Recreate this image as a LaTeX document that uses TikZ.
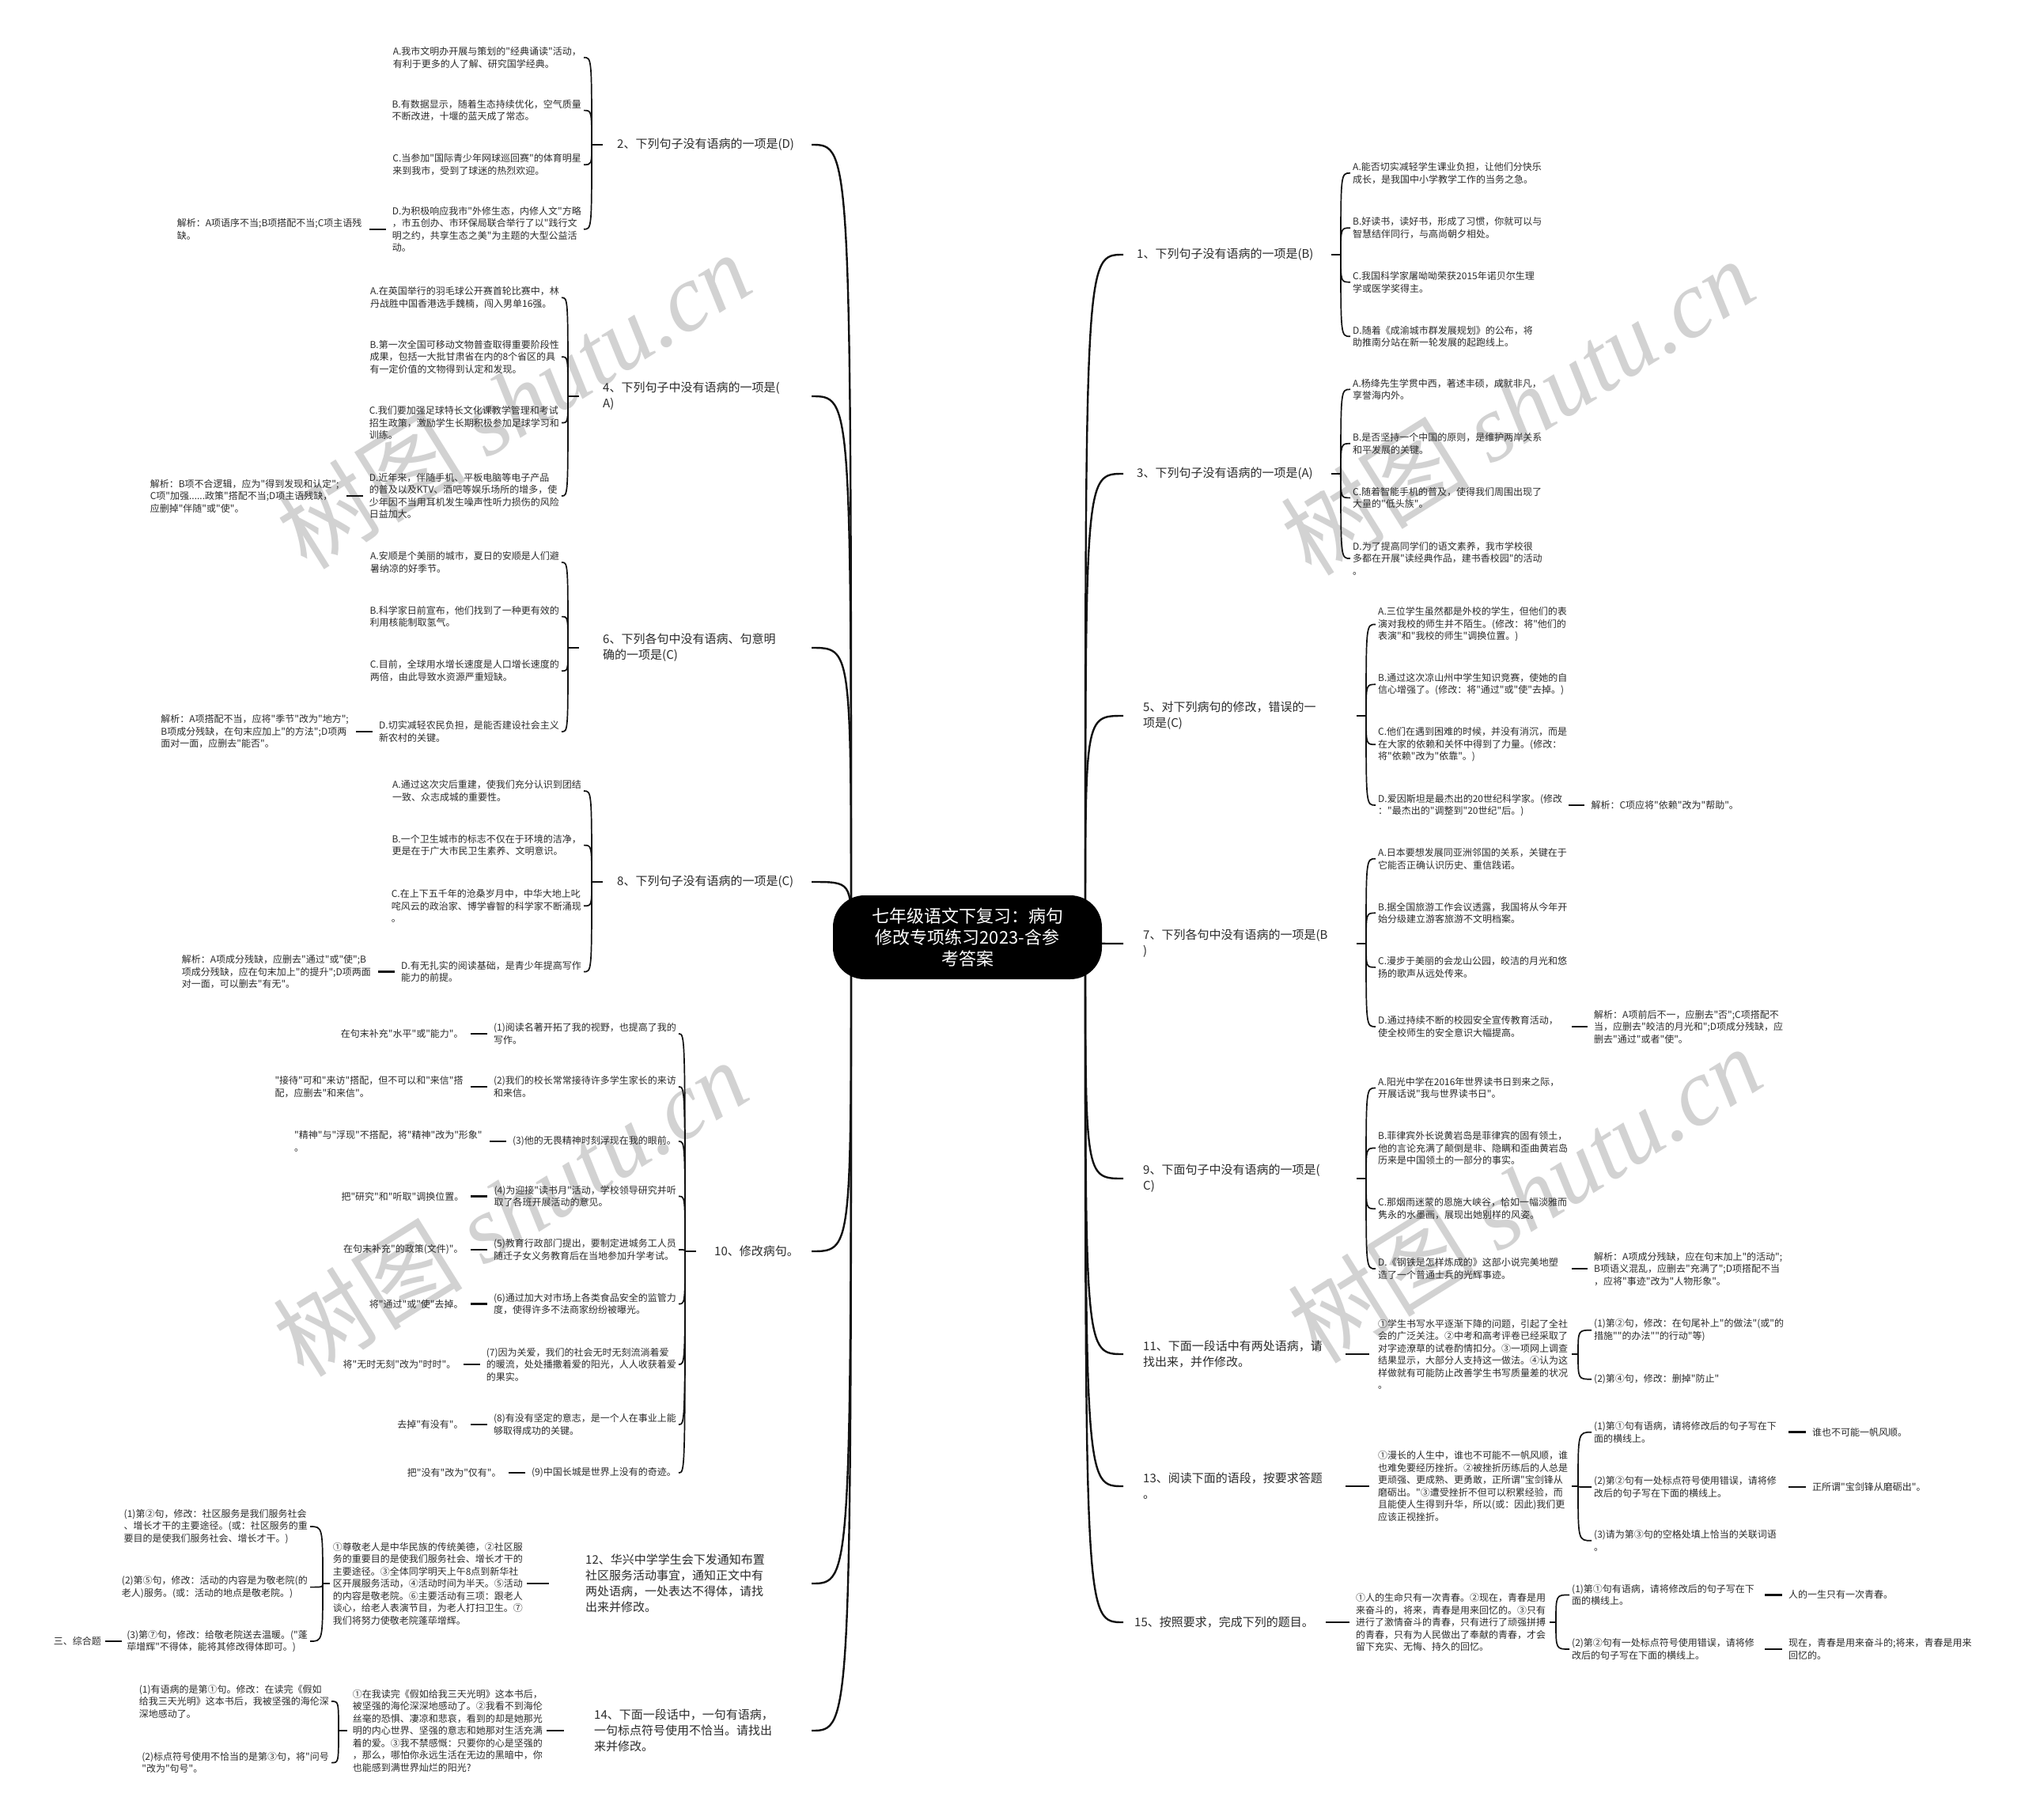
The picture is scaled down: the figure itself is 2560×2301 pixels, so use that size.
\documentclass[tikz,border=0pt]{standalone}
\usepackage{fontspec}
\setmainfont{Noto Sans CJK SC}[Ligatures=TeXOff]
\newfontfamily\wmserif{Liberation Serif}
\usetikzlibrary{positioning}
\definecolor{txt}{HTML}{2B2B2B}
\definecolor{lc}{HTML}{111111}
\definecolor{wmc}{HTML}{D2D2D2}
\tikzset{
 leaf/.style={font=\fontsize{12}{15.5}\selectfont, text=txt, align=left, inner sep=0pt},
 blabel/.style={font=\fontsize{15}{20}\selectfont, text=txt, align=left, inner sep=0pt},
 mainline/.style={line width=2.4pt, draw=lc},
 brc/.style={line width=1.7pt, draw=lc},
 tick/.style={line width=2.6pt, draw=lc},
 wm/.style={font=\fontsize{120}{120}\selectfont, text=wmc, rotate=32, inner sep=0pt},
}
\begin{document}
\begin{tikzpicture}[x=1pt,y=-1pt]
\fill[white] (0,0) rectangle (2560,2301);
\useasboundingbox (0,0) rectangle (2560,2301);
% watermarks
\node[wm] (w1) at (649,506) {树图 {\wmserif\itshape shutu.cn}};
\node[wm] (w2) at (1918,514) {树图 {\wmserif\itshape shutu.cn}};
\node[wm] (w3) at (645,1527) {树图 {\wmserif\itshape shutu.cn}};
\node[wm] (w4) at (1927,1510) {树图 {\wmserif\itshape shutu.cn}};

\coordinate (CL) at (1076,1185);
\coordinate (CR) at (1372,1185);
\coordinate (EL) at (1026,0);
\coordinate (ER) at (1420,0);

% branch labels
\node[blabel, anchor=west] (b1) at (1437,322) {1、下列句子没有语病的一项是(B)};
\node[blabel, anchor=west] (b3) at (1437,599) {3、下列句子没有语病的一项是(A)};
\node[blabel, anchor=west] (b5) at (1445,905) {5、对下列病句的修改，错误的一\\项是(C)};
\node[blabel, anchor=west] (b7) at (1445,1193) {7、下列各句中没有语病的一项是(B\\)};
\node[blabel, anchor=west] (b9) at (1445,1490) {9、下面句子中没有语病的一项是(\\C)};
\node[blabel, anchor=west] (b11) at (1445,1712) {11、下面一段话中有两处语病，请\\找出来，并作修改。};
\node[blabel, anchor=west] (b13) at (1445,1879) {13、阅读下面的语段，按要求答题\\。};
\node[blabel, anchor=west] (b15) at (1434,2051) {15、按照要求，完成下列的题目。};
\node[blabel, anchor=west] (b2) at (780,183) {2、下列句子没有语病的一项是(D)};
\node[blabel, anchor=west] (b4) at (762,501) {4、下列句子中没有语病的一项是(\\A)};
\node[blabel, anchor=west] (b6) at (762,819) {6、下列各句中没有语病、句意明\\确的一项是(C)};
\node[blabel, anchor=west] (b8) at (780,1115) {8、下列句子没有语病的一项是(C)};
\node[blabel, anchor=west] (b10) at (903,1582) {10、修改病句。};
\node[blabel, anchor=west] (b12) at (740,2002) {12、华兴中学学生会下发通知布置\\社区服务活动事宜，通知正文中有\\两处语病，一处表达不得体，请找\\出来并修改。};
\node[blabel, anchor=west] (b14) at (751,2188) {14、下面一段话中，一句有语病，\\一句标点符号使用不恰当。请找出\\来并修改。};

% main curves
\foreach \b in {b2,b4,b6,b8,b10,b12,b14}{
 \draw[mainline] (CL) .. controls (CL |- \b.east) .. (\b.east -| EL);
}
\foreach \b in {b1,b3,b5,b7,b9,b11,b13,b15}{
 \draw[mainline] (CR) .. controls (CR |- \b.west) .. (\b.west -| ER);
}

% center
\node[fill=black, rounded corners=40pt, minimum width=340pt, minimum height=106pt, text=white, align=center, font=\fontsize{22}{27}\selectfont] (c) at (1223,1185) {七年级语文下复习：病句\\修改专项练习2023-含参\\考答案};

% ===== Right side =====
% B1
\coordinate (P1) at (1695,322);
\node[leaf, anchor=west] (l1a) at (1710,218.8) {A.能否切实减轻学生课业负担，让他们分快乐\\成长，是我国中小学教学工作的当务之急。};
\node[leaf, anchor=west] (l1b) at (1710,288.2) {B.好读书，读好书，形成了习惯，你就可以与\\智慧结伴同行，与高尚朝夕相处。};
\node[leaf, anchor=west] (l1c) at (1710,356.7) {C.我国科学家屠呦呦荣获2015年诺贝尔生理\\学或医学奖得主。};
\node[leaf, anchor=west] (l1d) at (1710,425.3) {D.随着《成渝城市群发展规划》的公布，将\\助推南分站在新一轮发展的起跑线上。};
\draw[tick] (P1) -- ++(-12,0);
\foreach \n in {a,b,c,d}{\draw[brc] (P1) .. controls (P1 |- l1\n.west) .. ([xshift=-3pt]l1\n.west);}
% B3
\coordinate (P3) at (1695,599);
\node[leaf, anchor=west] (l3a) at (1710,492.3) {A.杨绛先生学贯中西，著述丰硕，成就非凡，\\享誉海内外。};
\node[leaf, anchor=west] (l3b) at (1710,560.8) {B.是否坚持一个中国的原则，是维护两岸关系\\和平发展的关键。};
\node[leaf, anchor=west] (l3c) at (1710,629.4) {C.随着智能手机的普及，使得我们周围出现了\\大量的"低头族"。};
\node[leaf, anchor=west] (l3d) at (1710,706.1) {D.为了提高同学们的语文素养，我市学校很\\多都在开展"读经典作品，建书香校园"的活动\\。};
\draw[tick] (P3) -- ++(-12,0);
\foreach \n in {a,b,c,d}{\draw[brc] (P3) .. controls (P3 |- l3\n.west) .. ([xshift=-3pt]l3\n.west);}
% B5
\coordinate (P5) at (1727,905);
\node[leaf, anchor=west] (l5a) at (1742,789.4) {A.三位学生虽然都是外校的学生，但他们的表\\演对我校的师生并不陌生。(修改：将"他们的\\表演"和"我校的师生"调换位置。)};
\node[leaf, anchor=west] (l5b) at (1742,865.3) {B.通过这次凉山州中学生知识竞赛，使她的自\\信心增强了。(修改：将"通过"或"使"去掉。)};
\node[leaf, anchor=west] (l5c) at (1742,941.3) {C.他们在遇到困难的时候，并没有消沉，而是\\在大家的依赖和关怀中得到了力量。(修改：\\将"依赖"改为"依靠"。)};
\node[leaf, anchor=west] (l5d) at (1742,1018) {D.爱因斯坦是最杰出的20世纪科学家。(修改\\："最杰出的"调整到"20世纪"后。)};
\node[leaf, right=36pt of l5d] (e5) {解析：C项应将"依赖"改为"帮助"。};
\draw[tick] (P5) -- ++(-12,0);
\foreach \n in {a,b,c,d}{\draw[brc] (P5) .. controls (P5 |- l5\n.west) .. ([xshift=-3pt]l5\n.west);}
\draw[tick, shorten <=8pt, shorten >=8pt] (l5d.east) -- (e5.west);
% B7
\coordinate (P7) at (1727,1193);
\node[leaf, anchor=west] (l7a) at (1742,1085.7) {A.日本要想发展同亚洲邻国的关系，关键在于\\它能否正确认识历史、重信践诺。};
\node[leaf, anchor=west] (l7b) at (1742,1154.3) {B.据全国旅游工作会议透露，我国将从今年开\\始分级建立游客旅游不文明档案。};
\node[leaf, anchor=west] (l7c) at (1742,1222.9) {C.漫步于美丽的会龙山公园，皎洁的月光和悠\\扬的歌声从远处传来。};
\node[leaf, anchor=west] (l7d) at (1742,1298) {D.通过持续不断的校园安全宣传教育活动，\\使全校师生的安全意识大幅提高。};
\node[leaf, anchor=west] (e7) at (2015,1298) {解析：A项前后不一，应删去"否";C项搭配不\\当，应删去"皎洁的月光和";D项成分残缺，应\\删去"通过"或者"使"。};
\draw[tick] (P7) -- ++(-12,0);
\foreach \n in {a,b,c,d}{\draw[brc] (P7) .. controls (P7 |- l7\n.west) .. ([xshift=-3pt]l7\n.west);}
\draw[tick, shorten >=8pt] ([xshift=-28pt]e7.west) -- (e7.west);
% B9
\coordinate (P9) at (1727,1490);
\node[leaf, anchor=west] (l9a) at (1742,1375.5) {A.阳光中学在2016年世界读书日到来之际，\\开展话说"我与世界读书日"。};
\node[leaf, anchor=west] (l9b) at (1742,1451.5) {B.菲律宾外长说黄岩岛是菲律宾的固有领土，\\他的言论充满了颠倒是非、隐瞒和歪曲黄岩岛\\历来是中国领土的一部分的事实。};
\node[leaf, anchor=west] (l9c) at (1742,1528.2) {C.那烟雨迷蒙的恩施大峡谷，恰如一幅淡雅而\\隽永的水墨画，展现出她别样的风姿。};
\node[leaf, anchor=west] (l9d) at (1742,1604.1) {D.《钢铁是怎样炼成的》这部小说完美地塑\\造了一个普通士兵的光辉事迹。};
\node[leaf, anchor=west] (e9) at (2015,1604.1) {解析：A项成分残缺，应在句末加上"的活动";\\B项语义混乱，应删去"充满了";D项搭配不当\\，应将"事迹"改为"人物形象"。};
\draw[tick] (P9) -- ++(-12,0);
\foreach \n in {a,b,c,d}{\draw[brc] (P9) .. controls (P9 |- l9\n.west) .. ([xshift=-3pt]l9\n.west);}
\draw[tick, shorten >=8pt] ([xshift=-28pt]e9.west) -- (e9.west);
% B11
\node[leaf, anchor=west] (m11) at (1742,1712) {①学生书写水平逐渐下降的问题，引起了全社\\会的广泛关注。②中考和高考评卷已经采取了\\对字迹潦草的试卷酌情扣分。③一项网上调查\\结果显示，大部分人支持这一做法。④认为这\\样做就有可能防止改善学生书写质量差的状况\\。};
\coordinate (P11) at (1995,1712);
\node[leaf, anchor=west] (l11a) at (2015,1681.7) {(1)第②句，修改：在句尾补上"的做法"(或"的\\措施""的办法""的行动"等)};
\node[leaf, anchor=west] (l11b) at (2015,1743.7) {(2)第④句，修改：删掉"防止"};
\draw[tick] ([xshift=-11pt]m11.west) -- ++(-30,0);
\draw[tick] (P11) -- ++(-8,0);
\foreach \n in {a,b}{\draw[brc] (P11) .. controls (P11 |- l11\n.west) .. ([xshift=-3pt]l11\n.west);}
% B13
\node[leaf, anchor=west] (m13) at (1742,1879) {①漫长的人生中，谁也不可能不一帆风顺，谁\\也难免要经历挫折。②被挫折历练后的人总是\\更顽强、更成熟、更勇敢，正所谓"宝剑锋从\\磨砺出。"③遭受挫折不但可以积累经验，而\\且能使人生得到升华，所以(或：因此)我们更\\应该正视挫折。};
\coordinate (P13) at (1995,1879);
\node[leaf, anchor=west] (l13a) at (2015,1810.7) {(1)第①句有语病，请将修改后的句子写在下\\面的横线上。};
\node[leaf, anchor=west] (l13b) at (2015,1880) {(2)第②句有一处标点符号使用错误，请将修\\改后的句子写在下面的横线上。};
\node[leaf, anchor=west] (l13c) at (2015,1947.8) {(3)请为第③句的空格处填上恰当的关联词语\\。};
\node[leaf, anchor=west] (a13a) at (2291,1810.7) {谁也不可能一帆风顺。};
\node[leaf, anchor=west] (a13b) at (2291,1880) {正所谓"宝剑锋从磨砺出"。};
\draw[tick] ([xshift=-11pt]m13.west) -- ++(-30,0);
\draw[tick] (P13) -- ++(-8,0);
\foreach \n in {a,b,c}{\draw[brc] (P13) .. controls (P13 |- l13\n.west) .. ([xshift=-3pt]l13\n.west);}
\draw[tick, shorten >=8pt] ([xshift=-30pt]a13a.west) -- (a13a.west);
\draw[tick, shorten >=8pt] ([xshift=-30pt]a13b.west) -- (a13b.west);
% B15
\node[leaf, anchor=west] (m15) at (1714,2051) {①人的生命只有一次青春。②现在，青春是用\\来奋斗的，将来，青春是用来回忆的。③只有\\进行了激情奋斗的青春，只有进行了顽强拼搏\\的青春，只有为人民做出了奉献的青春，才会\\留下充实、无悔、持久的回忆。};
\coordinate (P15) at (1967,2051);
\node[leaf, anchor=west] (l15a) at (1987,2016.4) {(1)第①句有语病，请将修改后的句子写在下\\面的横线上。};
\node[leaf, anchor=west] (l15b) at (1987,2085) {(2)第②句有一处标点符号使用错误，请将修\\改后的句子写在下面的横线上。};
\node[leaf, anchor=west] (a15a) at (2261,2016.4) {人的一生只有一次青春。};
\node[leaf, anchor=west] (a15b) at (2261,2085) {现在，青春是用来奋斗的;将来，青春是用来\\回忆的。};
\draw[tick] ([xshift=-8pt]m15.west) -- ++(-30,0);
\draw[tick] (P15) -- ++(-8,0);
\foreach \n in {a,b}{\draw[brc] (P15) .. controls (P15 |- l15\n.west) .. ([xshift=-3pt]l15\n.west);}
\draw[tick, shorten >=8pt] ([xshift=-30pt]a15a.west) -- (a15a.west);
\draw[tick, shorten >=8pt] ([xshift=-30pt]a15b.west) -- (a15b.west);

% ===== Left side =====
% B2
\coordinate (P2) at (748,183);
\node[leaf, anchor=east] (l2a) at (735,72.7) {A.我市文明办开展与策划的"经典诵读"活动，\\有利于更多的人了解、研究国学经典。};
\node[leaf, anchor=east] (l2b) at (735,139.6) {B.有数据显示，随着生态持续优化，空气质量\\不断改进，十堰的蓝天成了常态。};
\node[leaf, anchor=east] (l2c) at (735,208.2) {C.当参加"国际青少年网球巡回赛"的体育明星\\来到我市，受到了球迷的热烈欢迎。};
\node[leaf, anchor=east] (l2d) at (735,289.8) {D.为积极响应我市"外修生态，内修人文"方略\\，市五创办、市环保局联合举行了以"践行文\\明之约，共享生态之美"为主题的大型公益活\\动。};
\node[leaf, left=38pt of l2d] (e2) {解析：A项语序不当;B项搭配不当;C项主语残\\缺。};
\draw[tick] (P2) -- ++(14,0);
\foreach \n in {a,b,c,d}{\draw[brc] (P2) .. controls (P2 |- l2\n.east) .. ([xshift=3pt]l2\n.east);}
\draw[tick, shorten <=9pt, shorten >=8pt] (e2.east) -- (l2d.west);
% B4
\coordinate (P4) at (718,501);
\node[leaf, anchor=east] (l4a) at (707,376.3) {A.在英国举行的羽毛球公开赛首轮比赛中，林\\丹战胜中国香港选手魏楠，闯入男单16强。};
\node[leaf, anchor=east] (l4b) at (707,451.2) {B.第一次全国可移动文物普查取得重要阶段性\\成果，包括一大批甘肃省在内的8个省区的具\\有一定价值的文物得到认定和发现。};
\node[leaf, anchor=east] (l4c) at (707,534.5) {C.我们要加强足球特长文化课教学管理和考试\\招生政策，激励学生长期积极参加足球学习和\\训练。};
\node[leaf, anchor=east] (l4d) at (707,627) {D.近年来，伴随手机、平板电脑等电子产品\\的普及以及KTV、酒吧等娱乐场所的增多，使\\少年因不当用耳机发生噪声性听力损伤的风险\\日益加大。};
\node[leaf, left=38pt of l4d] (e4) {解析：B项不合逻辑，应为"得到发现和认定";\\C项"加强......政策"搭配不当;D项主语残缺，\\应删掉"伴随"或"使"。};
\draw[tick] (P4) -- ++(14,0);
\foreach \n in {a,b,c,d}{\draw[brc] (P4) .. controls (P4 |- l4\n.east) .. ([xshift=3pt]l4\n.east);}
\draw[tick, shorten <=9pt, shorten >=8pt] (e4.east) -- (l4d.west);
% B6
\coordinate (P6) at (718,819);
\node[leaf, anchor=east] (l6a) at (707,711) {A.安顺是个美丽的城市，夏日的安顺是人们避\\暑纳凉的好季节。};
\node[leaf, anchor=east] (l6b) at (707,779.6) {B.科学家日前宣布，他们找到了一种更有效的\\利用核能制取氢气。};
\node[leaf, anchor=east] (l6c) at (707,848.2) {C.目前，全球用水增长速度是人口增长速度的\\两倍，由此导致水资源严重短缺。};
\node[leaf, anchor=east] (l6d) at (707,925) {D.切实减轻农民负担，是能否建设社会主义\\新农村的关键。};
\node[leaf, left=38pt of l6d] (e6) {解析：A项搭配不当，应将"季节"改为"地方";\\B项成分残缺，在句末应加上"的方法";D项两\\面对一面，应删去"能否"。};
\draw[tick] (P6) -- ++(14,0);
\foreach \n in {a,b,c,d}{\draw[brc] (P6) .. controls (P6 |- l6\n.east) .. ([xshift=3pt]l6\n.east);}
\draw[tick, shorten <=9pt, shorten >=8pt] (e6.east) -- (l6d.west);
% B8
\coordinate (P8) at (748,1115);
\node[leaf, anchor=east] (l8a) at (735,1000) {A.通过这次灾后重建，使我们充分认识到团结\\一致、众志成城的重要性。};
\node[leaf, anchor=east] (l8b) at (735,1068.6) {B.一个卫生城市的标志不仅在于环境的洁净，\\更是在于广大市民卫生素养、文明意识。};
\node[leaf, anchor=east] (l8c) at (735,1145.3) {C.在上下五千年的沧桑岁月中，中华大地上叱\\咤风云的政治家、博学睿智的科学家不断涌现\\。};
\node[leaf, anchor=east] (l8d) at (735,1228.6) {D.有无扎实的阅读基础，是青少年提高写作\\能力的前提。};
\node[leaf, left=38pt of l8d] (e8) {解析：A项成分残缺，应删去"通过"或"使";B\\项成分残缺，应在句末加上"的提升";D项两面\\对一面，可以删去"有无"。};
\draw[tick] (P8) -- ++(14,0);
\foreach \n in {a,b,c,d}{\draw[brc] (P8) .. controls (P8 |- l8\n.east) .. ([xshift=3pt]l8\n.east);}
\draw[tick, shorten <=9pt, shorten >=8pt] (e8.east) -- (l8d.west);
% B10
\coordinate (P10) at (866,1582);
\node[leaf, anchor=east] (l10a) at (855,1307) {(1)阅读名著开拓了我的视野，也提高了我的\\写作。};
\node[leaf, anchor=east] (l10b) at (855,1374) {(2)我们的校长常常接待许多学生家长的来访\\和来信。};
\node[leaf, anchor=east] (l10c) at (855,1443) {(3)他的无畏精神时刻浮现在我的眼前。};
\node[leaf, anchor=east] (l10d) at (855,1512.5) {(4)为迎接"读书月"活动，学校领导研究并听\\取了各班开展活动的意见。};
\node[leaf, anchor=east] (l10e) at (855,1580) {(5)教育行政部门提出，要制定进城务工人员\\随迁子女义务教育后在当地参加升学考试。};
\node[leaf, anchor=east] (l10f) at (855,1648.5) {(6)通过加大对市场上各类食品安全的监管力\\度，使得许多不法商家纷纷被曝光。};
\node[leaf, anchor=east] (l10g) at (855,1725) {(7)因为关爱，我们的社会无时无刻流淌着爱\\的暖流，处处播撒着爱的阳光，人人收获着爱\\的果实。};
\node[leaf, anchor=east] (l10h) at (855,1801) {(8)有没有坚定的意志，是一个人在事业上能\\够取得成功的关键。};
\node[leaf, anchor=east] (l10i) at (855,1862) {(9)中国长城是世界上没有的奇迹。};
\node[leaf, left=38pt of l10a] (a10a) {在句末补充"水平"或"能力"。};
\node[leaf, left=38pt of l10b] (a10b) {"接待"可和"来访"搭配，但不可以和"来信"搭\\配，应删去"和来信"。};
\node[leaf, left=38pt of l10c] (a10c) {"精神"与"浮现"不搭配，将"精神"改为"形象"\\。};
\node[leaf, left=38pt of l10d] (a10d) {把"研究"和"听取"调换位置。};
\node[leaf, left=38pt of l10e] (a10e) {在句末补充"的政策(文件)"。};
\node[leaf, left=38pt of l10f] (a10f) {将"通过"或"使"去掉。};
\node[leaf, left=38pt of l10g] (a10g) {将"无时无刻"改为"时时"。};
\node[leaf, left=38pt of l10h] (a10h) {去掉"有没有"。};
\node[leaf, left=38pt of l10i] (a10i) {把"没有"改为"仅有"。};
\draw[tick] (P10) -- ++(14,0);
\foreach \n in {a,b,c,d,e,f,g,h,i}{
 \draw[brc] (P10) .. controls (P10 |- l10\n.east) .. ([xshift=3pt]l10\n.east);
 \draw[tick, shorten <=9pt, shorten >=8pt] (a10\n.east) -- (l10\n.west);
}
% B12
\node[leaf, anchor=east] (m12) at (661,2002) {①尊敬老人是中华民族的传统美德，②社区服\\务的重要目的是使我们服务社会、增长才干的\\主要途径。③全体同学明天上午8点到新华社\\区开展服务活动，④活动时间为半天。⑤活动\\的内容是敬老院。⑥主要活动有三项：跟老人\\谈心，给老人表演节目，为老人打扫卫生。⑦\\我们将努力使敬老院蓬荜增辉。};
\coordinate (P12) at (408,2002);
\node[leaf, anchor=east] (l12a) at (389,1930) {(1)第②句，修改：社区服务是我们服务社会\\、增长才干的主要途径。(或：社区服务的重\\要目的是使我们服务社会、增长才干。)};
\node[leaf, anchor=east] (l12b) at (389,2006.6) {(2)第⑤句，修改：活动的内容是为敬老院(的\\老人)服务。(或：活动的地点是敬老院。)};
\node[leaf, anchor=east] (l12c) at (389,2075) {(3)第⑦句，修改：给敬老院送去温暖。("蓬\\荜增辉"不得体，能将其修改得体即可。)};
\node[leaf, left=32pt of l12c] (z) {三、综合题};
\draw[tick] ([xshift=5pt]m12.east) -- ++(28,0);
\draw[tick] (P12) -- ++(9,0);
\foreach \n in {a,b,c}{\draw[brc] (P12) .. controls (P12 |- l12\n.east) .. ([xshift=3pt]l12\n.east);}
\draw[tick, shorten <=5pt, shorten >=6pt] (z.east) -- (l12c.west);
% B14
\node[leaf, anchor=east] (m14) at (686,2188) {①在我读完《假如给我三天光明》这本书后，\\被坚强的海伦深深地感动了。②我看不到海伦\\丝毫的恐惧、凄凉和悲哀，看到的却是她那光\\明的内心世界、坚强的意志和她那对生活充满\\着的爱。③我不禁感慨：只要你的心是坚强的\\，那么，哪怕你永远生活在无边的黑暗中，你\\也能感到满世界灿烂的阳光?};
\coordinate (P14) at (428,2188);
\node[leaf, anchor=east] (l14a) at (416,2151) {(1)有语病的是第①句。修改：在读完《假如\\给我三天光明》这本书后，我被坚强的海伦深\\深地感动了。};
\node[leaf, anchor=east] (l14b) at (416,2228.6) {(2)标点符号使用不恰当的是第③句，将"问号\\"改为"句号"。};
\draw[tick] ([xshift=5pt]m14.east) -- ++(22,0);
\draw[tick] (P14) -- ++(11,0);
\foreach \n in {a,b}{\draw[brc] (P14) .. controls (P14 |- l14\n.east) .. ([xshift=3pt]l14\n.east);}
\end{tikzpicture}
\end{document}
